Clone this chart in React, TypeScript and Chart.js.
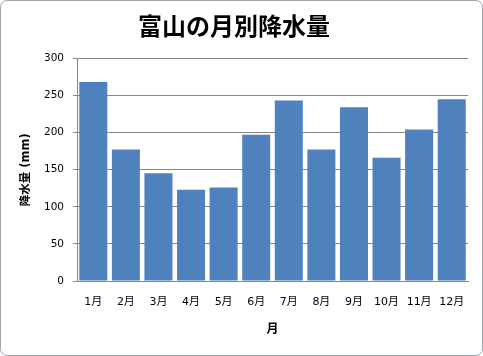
import React, { useEffect, useRef } from "react";
import { Chart, registerables } from "chart.js";

Chart.register(...registerables);

const months = ["1月", "2月", "3月", "4月", "5月", "6月", "7月", "8月", "9月", "10月", "11月", "12月"];
const precipitation = [268, 177, 145, 123, 126, 197, 243, 177, 234, 166, 204, 245];
const chartTitle = "富山の月別降水量";
const yAxisTitle = "降水量 (mm)";
const xAxisTitle = "月";

export default function App() {
  const ref = useRef<HTMLCanvasElement | null>(null);

  useEffect(() => {
    document.body.style.margin = "0";
    const canvas = ref.current;
    if (!canvas) return;
    const chart = new Chart(canvas, {
      type: "bar",
      data: {
        labels: months,
        datasets: [
          {
            data: precipitation,
            backgroundColor: "#4F81BD",
            borderWidth: 0,
            barPercentage: 0.86,
            categoryPercentage: 1,
          },
        ],
      },
      options: {
        animation: false,
        responsive: false,
        maintainAspectRatio: false,
        layout: { padding: { left: 0, right: 15, top: 0, bottom: 0 } },
        plugins: {
          legend: { display: false },
          tooltip: { enabled: false },
          title: {
            display: true,
            text: chartTitle,
            color: "#000",
            font: { family: '"Noto Sans CJK JP"', size: 24, weight: "bold", lineHeight: 1.2 },
            padding: { top: 11, bottom: 18.5 },
          },
        },
        scales: {
          x: {
            grid: { display: false, drawTicks: false },
            border: { display: true, color: "#868686", width: 1 },
            ticks: {
              color: "#000",
              font: { family: '"DejaVu Sans", "Noto Sans CJK JP"', size: 11 },
              padding: 15,
              maxRotation: 0,
              autoSkip: false,
            },
            title: {
              display: true,
              text: xAxisTitle,
              color: "#000",
              font: { family: '"Noto Sans CJK JP"', size: 12, weight: "bold" },
              padding: { top: 0, bottom: 20 },
            },
            afterFit: (scale: any) => {
              scale.height = 356 - 281;
            },
          },
          y: {
            min: 0,
            max: 300,
            ticks: {
              stepSize: 50,
              color: "#000",
              font: { family: '"DejaVu Sans"', size: 10.5 },
              padding: 9,
            },
            grid: { color: "#868686", lineWidth: 1, tickLength: 4, drawTicks: true },
            border: { display: true, color: "#868686", width: 1 },
            title: {
              display: true,
              text: yAxisTitle,
              color: "#000",
              font: { family: '"DejaVu Sans", "Noto Sans CJK JP"', size: 11.5, weight: "bold" },
              padding: { top: 19, bottom: 0 },
            },
            afterFit: (scale: any) => {
              scale.width = 77;
            },
          },
        },
      },
    });
    return () => chart.destroy();
  }, []);

  return (
    <div style={{ position: "relative", width: 483, height: 356 }}>
      <canvas ref={ref} width={483} height={356} style={{ display: "block", width: 483, height: 356 }} />
      <div
        style={{
          position: "absolute",
          left: 0,
          top: 0,
          width: 483,
          height: 356,
          boxSizing: "border-box",
          border: "1px solid #a0a4a8",
          borderRadius: 7,
          pointerEvents: "none",
        }}
      />
    </div>
  );
}
